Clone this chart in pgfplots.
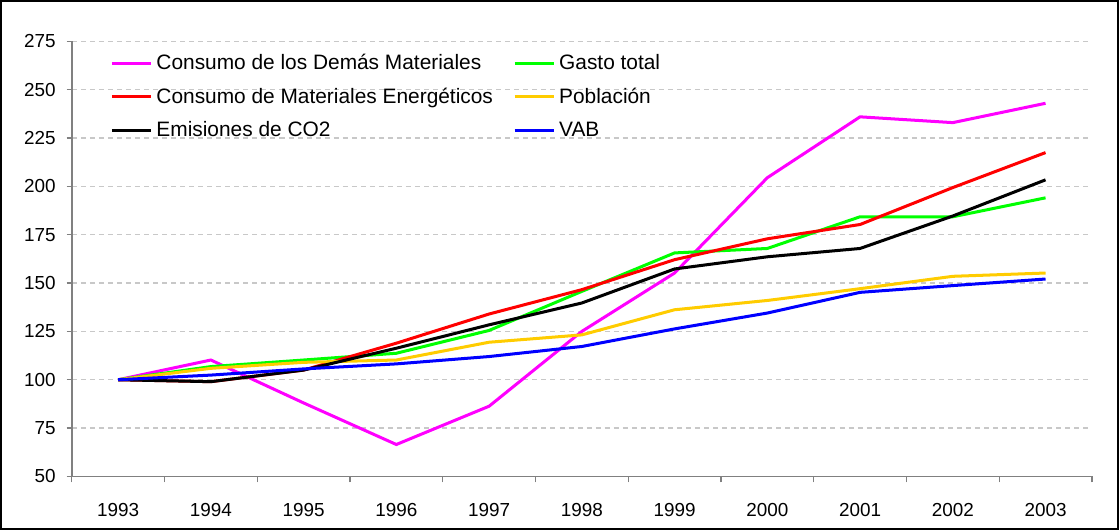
\documentclass[border=0pt]{standalone}
\usepackage{pgfplots}
\pgfplotsset{compat=1.18}
\usepackage{fontspec}
\setmainfont{Liberation Sans}

\definecolor{cMag}{RGB}{255,0,255}
\definecolor{cGreen}{RGB}{0,255,0}
\definecolor{cRed}{RGB}{255,0,0}
\definecolor{cYel}{RGB}{255,204,0}
\definecolor{cBlue}{RGB}{0,0,255}
\definecolor{axgray}{RGB}{128,128,128}
\definecolor{gridgray}{RGB}{200,200,200}

\begin{document}
\begin{tikzpicture}
\begin{axis}[
    name=ax,
    scale only axis,
    width=508.25pt, height=216.7pt,
    xmin=-0.5, xmax=10.5,
    ymin=50, ymax=275,
    axis x line*=bottom, axis y line*=left,
    axis line style={-, draw=axgray, line width=0.75pt},
    xtick={0,...,10},
    xticklabels={1993,1994,1995,1996,1997,1998,1999,2000,2001,2002,2003},
    minor xtick={-0.5,0.5,...,10.5},
    major x tick style={draw=none},
    minor x tick style={draw=axgray, line width=0.6pt},
    ytick={50,75,...,275},
    y tick style={draw=axgray, line width=0.6pt},
    tick align=outside,
    major tick length=2.5pt, minor tick length=3pt,
    ymajorgrids,
    grid style={gridgray, line width=0.6pt, dash pattern=on 2.5pt off 2pt},
    /pgf/number format/assume math mode=true,
    ticklabel style={font=\fontsize{9.4}{11}\selectfont},
    xticklabel style={yshift=-7.3pt},
    yticklabel style={xshift=-2pt},
    legend columns=2,
    legend cell align=left,
    legend style={at={(0.0374,0.981)}, anchor=north west, draw=none, fill=none,
        inner sep=0pt, font=\fontsize{10.4}{12}\selectfont, row sep=3.6pt,
        /tikz/column 2/.style={column sep=8pt}},
    legend image code/.code={\draw[#1] (0pt,0pt) -- (19.5pt,0pt);},
    every axis plot/.append style={line width=1.5pt},
]
\addplot[cMag] coordinates {(0,100) (1,110.2) (2,88) (3,66.5) (4,86.3) (5,125) (6,155.2) (7,204.5) (8,236) (9,233) (10,243)};
\addplot[cGreen] coordinates {(0,100) (1,106.8) (2,110.2) (3,113.7) (4,125.5) (5,145.7) (6,165.6) (7,167.9) (8,184.3) (9,184.3) (10,194.1)};
\addplot[cRed] coordinates {(0,100) (1,99) (2,105) (3,118.9) (4,134) (5,146.6) (6,162.1) (7,172.9) (8,180.3) (9,199.4) (10,217.5)};
\addplot[cYel] coordinates {(0,100) (1,105.9) (2,109) (3,110.2) (4,119.4) (5,123.2) (6,136.2) (7,141) (8,147.1) (9,153.5) (10,155.2)};
\addplot[black] coordinates {(0,100) (1,99) (2,105) (3,116.3) (4,128.4) (5,139.7) (6,157.3) (7,163.6) (8,167.9) (9,184.7) (10,203.4)};
\addplot[cBlue] coordinates {(0,100) (1,102.4) (2,105.6) (3,108.2) (4,112) (5,117.2) (6,126.3) (7,134.5) (8,145.2) (9,148.7) (10,152.1)};
\legend{Consumo de los Demás Materiales, Gasto total,
        Consumo de Materiales Energéticos, Población,
        Emisiones de CO2, VAB}
\end{axis}
\draw[line width=1pt] ([xshift=-35.25pt,yshift=-26.15pt]ax.south west)
    rectangle ([xshift=13pt,yshift=20.15pt]ax.north east);
\end{tikzpicture}
\end{document}
